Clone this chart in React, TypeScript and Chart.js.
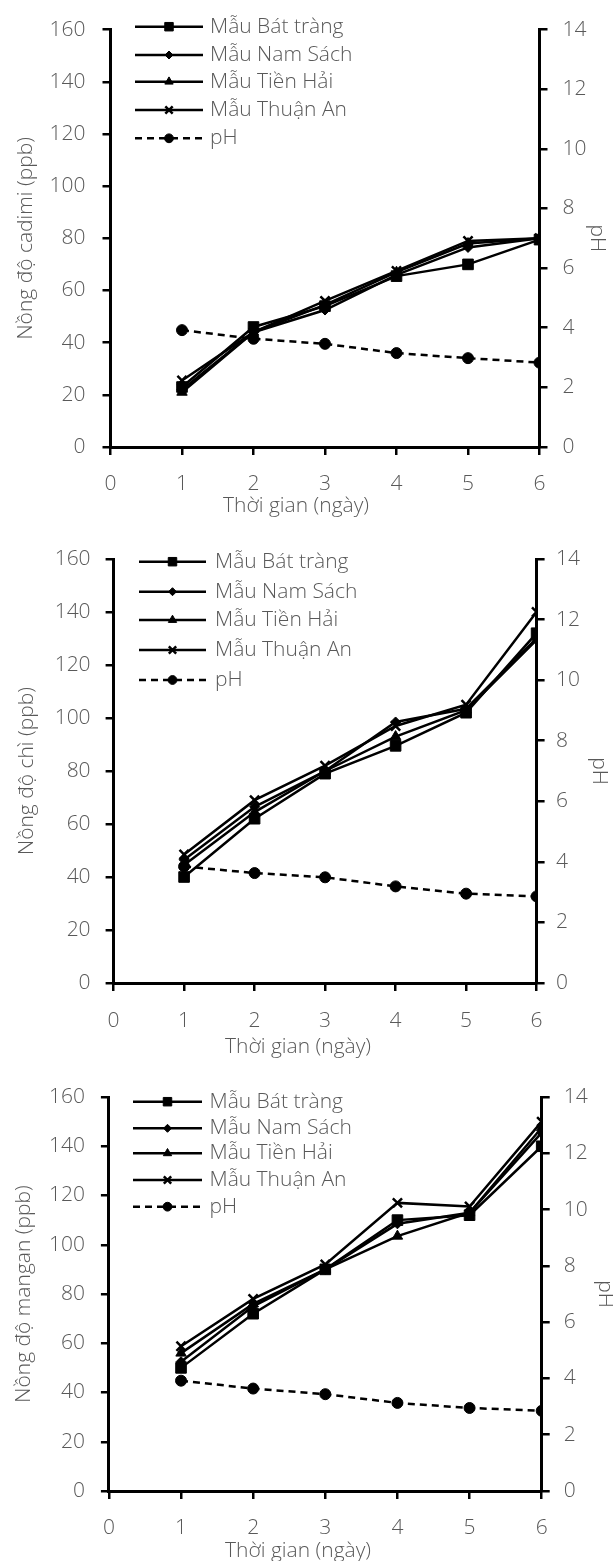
import React, { useEffect, useRef } from 'react';
import { Chart, registerables } from 'chart.js';
import { drawPoint } from 'chart.js/helpers';

Chart.register(...registerables);

// ---------- DATA ----------
const days = [1, 2, 3, 4, 5, 6];
const seriesNames = ['Mẫu Bát tràng', 'Mẫu Nam Sách', 'Mẫu Tiền Hải', 'Mẫu Thuận An', 'pH'];
const xTitle = 'Thời gian (ngày)';
const phTitle = 'pH';

// Chart 1: cadimi
const cdTitle = 'Nồng độ cadimi (ppb)';
const cdBatTrang = [23, 46, 54, 65.5, 70, 79.5];
const cdNamSach = [22, 44, 52.5, 66, 76.5, 80];
const cdTienHai = [21, 44, 54.5, 67, 78, 80];
const cdThuanAn = [25.5, 44, 56, 67.5, 79, 80];
const cdPH = [3.92, 3.63, 3.46, 3.15, 2.98, 2.83];

// Chart 2: chì
const pbTitle = 'Nồng độ chì (ppb)';
const pbBatTrang = [40, 62, 79, 89.5, 102, 132];
const pbNamSach = [46.5, 66.5, 80, 98.5, 103.5, 130];
const pbTienHai = [44.5, 64.5, 80, 93, 103, 129.5];
const pbThuanAn = [48.5, 69, 82, 97, 105, 140];
const pbPH = [3.85, 3.63, 3.49, 3.19, 2.95, 2.86];

// Chart 3: mangan
const mnTitle = 'Nồng độ mangan (ppb)';
const mnBatTrang = [50, 72, 90, 110, 112, 140];
const mnNamSach = [52.5, 75, 90, 108.5, 113, 145.5];
const mnTienHai = [56, 76, 90, 103.5, 113, 147.5];
const mnThuanAn = [58.8, 78, 92, 117, 115.5, 150];
const mnPH = [3.92, 3.64, 3.44, 3.13, 2.95, 2.85];

const concMin = 0;
const concMax = 160;
const concStep = 20;
const phMin = 0;
const phMax = 14;
const phStep = 2;
const dayMin = 0;
const dayMax = 6;

// ---------- STYLE ----------
const GRAY = '#595959';
const FAMILY = "'Open Sans', 'Noto Sans', sans-serif";
const FONT = { family: FAMILY, size: 21, weight: '300' as any };
const FONT_CSS = `300 21px ${FAMILY}`;

const markerStyles = [
  { pointStyle: 'rect', pointRadius: 7.5, pointBorderWidth: 1 },
  { pointStyle: 'rectRot', pointRadius: 5, pointBorderWidth: 1 },
  { pointStyle: 'triangle', pointRadius: 6, pointBorderWidth: 1 },
  { pointStyle: 'crossRot', pointRadius: 6.5, pointBorderWidth: 2.5 },
  { pointStyle: 'circle', pointRadius: 5.5, pointBorderWidth: 1 },
];

const lineLegend = {
  id: 'lineLegend',
  afterDraw(chart: any, _args: any, opts: any) {
    const { ctx } = chart;
    chart.data.datasets.forEach((ds: any, i: number) => {
      const y = opts.rows[i];
      ctx.save();
      ctx.strokeStyle = ds.borderColor;
      ctx.lineWidth = ds.borderWidth;
      ctx.setLineDash(ds.borderDash || []);
      ctx.beginPath();
      ctx.moveTo(opts.x0, y);
      ctx.lineTo(opts.x1, y);
      ctx.stroke();
      ctx.setLineDash([]);
      ctx.fillStyle = ds.pointBackgroundColor;
      ctx.strokeStyle = ds.pointBorderColor;
      ctx.lineWidth = ds.pointBorderWidth;
      drawPoint(
        ctx,
        { pointStyle: ds.pointStyle, rotation: 0, radius: ds.pointRadius * 0.8, borderWidth: ds.pointBorderWidth } as any,
        (opts.x0 + opts.x1) / 2,
        y
      );
      ctx.fillStyle = GRAY;
      ctx.font = FONT_CSS;
      ctx.textBaseline = 'middle';
      ctx.textAlign = 'left';
      ctx.fillText(ds.label, opts.textX, y);
      ctx.restore();
    });
    // x axis title
    ctx.save();
    ctx.fillStyle = GRAY;
    ctx.font = FONT_CSS;
    ctx.textBaseline = 'middle';
    ctx.textAlign = 'center';
    ctx.fillText(opts.xTitle, opts.xTitleX, opts.xTitleY);
    ctx.restore();
  },
};

type Panel = {
  top: number;
  height: number;
  T: number;
  L: number;
  R: number;
  B: number;
  yPad: number;
  y1Pad: number;
  xPad: number;
  yTitlePad: number;
  y1TitlePad: number;
  xTitleX: number;
  xTitleY: number;
  legend: { x0: number; x1: number; textX: number; rows: number[] };
  yTitle: string;
  series: number[][];
  ph: number[];
};

const panels: Panel[] = [
  {
    top: 0, height: 530, T: 23, L: 110.5, R: 539.5, B: 447,
    yPad: 17, y1Pad: 15, xPad: 16, yTitlePad: 13, y1TitlePad: 3.5,
    xTitleX: 296, xTitleY: 506,
    legend: { x0: 135, x1: 203, textX: 210, rows: [26.7, 55, 81.7, 110, 138.3] },
    yTitle: cdTitle,
    series: [cdBatTrang, cdNamSach, cdTienHai, cdThuanAn],
    ph: cdPH,
  },
  {
    top: 520, height: 540, T: 39, L: 113.6, R: 536.6, B: 463,
    yPad: 15, y1Pad: 11.4, xPad: 17, yTitlePad: 14.5, y1TitlePad: 1.5,
    xTitleX: 298, xTitleY: 527,
    legend: { x0: 139, x1: 206, textX: 215, rows: [41.7, 71.7, 100, 130, 160] },
    yTitle: pbTitle,
    series: [pbBatTrang, pbNamSach, pbTienHai, pbThuanAn],
    ph: pbPH,
  },
  {
    top: 1040, height: 521, T: 57, L: 108.9, R: 541.7, B: 451,
    yPad: 16, y1Pad: 14, xPad: 16, yTitlePad: 11, y1TitlePad: -4.5,
    xTitleX: 298, xTitleY: 511,
    legend: { x0: 133, x1: 202, textX: 209.5, rows: [61.7, 88.3, 113.3, 140, 166.7] },
    yTitle: mnTitle,
    series: [mnBatTrang, mnNamSach, mnTienHai, mnThuanAn],
    ph: mnPH,
  },
];

const W = 613;

function buildConfig(p: Panel): any {
  const mk = (label: string, values: number[], idx: number, axis: string, dash: number[]) => ({
    label,
    data: days.map((d, i) => ({ x: d, y: values[i] })),
    yAxisID: axis,
    borderColor: '#000',
    backgroundColor: '#000',
    borderWidth: 2.5,
    borderDash: dash,
    pointBackgroundColor: '#000',
    pointBorderColor: '#000',
    ...markerStyles[idx],
    pointHoverRadius: markerStyles[idx].pointRadius,
    tension: 0,
    fill: false,
  });
  const datasets = [
    ...p.series.map((s, i) => mk(seriesNames[i], s, i, 'y', [])),
    mk(seriesNames[4], p.ph, 4, 'y1', [7, 5]),
  ];
  const grid = {
    drawOnChartArea: false,
    drawTicks: true,
    tickLength: 8,
    color: '#000',
    lineWidth: 2.5,
  };
  const border = { display: true, color: '#000', width: 3 };
  return {
    type: 'line',
    data: { datasets },
    plugins: [lineLegend],
    options: {
      responsive: false,
      animation: false,
      layout: { padding: { top: p.T, left: 0, right: 0, bottom: 0 } },
      plugins: {
        legend: { display: false },
        tooltip: { enabled: false },
        lineLegend: { ...p.legend, xTitle, xTitleX: p.xTitleX, xTitleY: p.xTitleY },
      },
      scales: {
        x: {
          type: 'linear',
          position: 'bottom',
          min: dayMin,
          max: dayMax,
          ticks: { stepSize: 1, padding: p.xPad, color: GRAY, font: FONT, autoSkip: false },
          grid,
          border,
          title: { display: false },
          afterFit: (s: any) => {
            s.height = p.height - p.B;
          },
        },
        y: {
          type: 'linear',
          position: 'left',
          min: concMin,
          max: concMax,
          ticks: { stepSize: concStep, padding: p.yPad, color: GRAY, font: FONT },
          grid,
          border,
          title: {
            display: true,
            text: p.yTitle,
            color: GRAY,
            font: FONT,
            padding: { top: p.yTitlePad, bottom: 0 },
          },
          afterFit: (s: any) => {
            s.width = p.L;
          },
        },
        y1: {
          type: 'linear',
          position: 'right',
          min: phMin,
          max: phMax,
          ticks: { stepSize: phStep, padding: p.y1Pad, color: GRAY, font: FONT },
          grid,
          border,
          title: {
            display: true,
            text: phTitle,
            color: GRAY,
            font: FONT,
            padding: { top: p.y1TitlePad, bottom: 0 },
          },
          afterFit: (s: any) => {
            s.width = W - p.R;
          },
        },
      },
    },
  };
}

function Panel({ p }: { p: Panel }) {
  const ref = useRef<HTMLCanvasElement>(null);
  useEffect(() => {
    const chart = new Chart(ref.current as HTMLCanvasElement, buildConfig(p));
    return () => chart.destroy();
  }, [p]);
  return (
    <div style={{ position: 'absolute', left: 0, top: p.top, width: W, height: p.height }}>
      <canvas ref={ref} width={W} height={p.height} style={{ display: 'block', width: W, height: p.height }} />
    </div>
  );
}

export default function App() {
  return (
    <div style={{ position: 'absolute', left: 0, top: 0, width: W, height: 1561, background: '#fff', overflow: 'hidden' }}>
      {panels.map((p, i) => (
        <Panel key={i} p={p} />
      ))}
    </div>
  );
}
